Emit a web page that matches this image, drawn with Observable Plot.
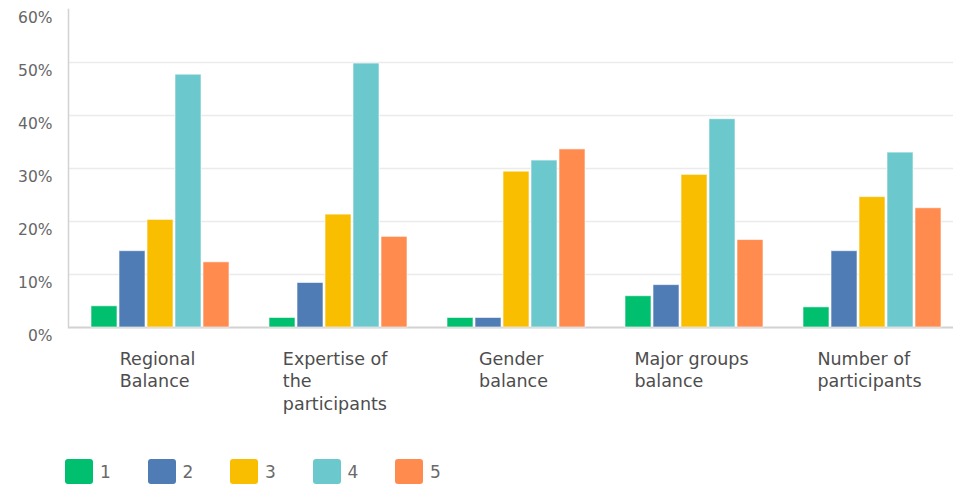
<!DOCTYPE html>
<html>
<head>
<meta charset="utf-8">
<script src="https://cdn.jsdelivr.net/npm/d3@7"></script>
<script src="https://cdn.jsdelivr.net/npm/@observablehq/plot@0.6"></script>
<style>
  html, body { margin: 0; padding: 0; background: #fff; overflow: hidden; }
  #chart svg { overflow: hidden; display: block; }
  #legend { padding: 39px 0 0 65px; }
  #legend div[class$="-swatches"], #legend div[class*="-swatches "] { margin: 0 !important; min-height: 0 !important; font-family: "DejaVu Sans", sans-serif !important; font-size: 17px !important; color: #6a6a6a !important; }
  #legend span[class$="-swatch"] { width: 82.5px; margin: 0 !important; display: inline-flex; align-items: center; }
  #legend span[class$="-swatch"] > svg { margin-right: 7px !important; }
  #legend span[class$="-swatch"] rect { rx: 3px; ry: 3px; }
</style>
</head>
<body>
<div id="chart"></div>
<div id="legend"></div>
<script>
const categories = ["Regional Balance", "Expertise of the participants", "Gender balance", "Major groups balance", "Number of participants"];
const categoryLabels = ["Regional\nBalance", "Expertise of\nthe\nparticipants", "Gender\nbalance", "Major groups\nbalance", "Number of\nparticipants"];
const ratings = ["1", "2", "3", "4", "5"];
const ratingColors = ["#00BF6F", "#507CB6", "#F9BE00", "#6BC8CD", "#FF8B4F"];
// percent values per rating, one entry per category
const rating1 = [4.0, 1.8, 1.8, 5.9, 3.8];
const rating2 = [14.4, 8.4, 1.8, 8.0, 14.4];
const rating3 = [20.3, 21.3, 29.4, 28.8, 24.6];
const rating4 = [47.7, 49.8, 31.5, 39.3, 33.0];
const rating5 = [12.3, 17.1, 33.6, 16.5, 22.5];
const yTicks = [0, 10, 20, 30, 40, 50, 60];
const gridTicks = [10, 20, 30, 40, 50];

const series = [rating1, rating2, rating3, rating4, rating5];
const data = [];
categories.forEach((c, ci) => {
  ratings.forEach((r, ri) => {
    data.push({category: c, rating: r, value: series[ri][ci]});
  });
});

const chart = Plot.plot({
  width: 953,
  height: 420,
  marginTop: 9,
  marginBottom: 93,
  marginLeft: 67,
  marginRight: -5,
  style: {fontFamily: "DejaVu Sans, sans-serif", background: "white", overflow: "hidden"},
  fx: {domain: categories, padding: 0, label: null, axis: null},
  x: {domain: ratings, paddingInner: 0.06, paddingOuter: 0.634, align: 0.585, axis: null},
  y: {domain: [0, 60], axis: null, label: null},
  color: {domain: ratings, range: ratingColors},
  marks: [
    Plot.gridY(gridTicks, {stroke: "#ebebeb", strokeOpacity: 1, strokeWidth: 1.5}),
    Plot.ruleY([0], {stroke: "#d2d2d2", strokeWidth: 2}),
    Plot.frame({anchor: "left", facetAnchor: "left", stroke: "#d2d2d2", strokeWidth: 1.5}),
    Plot.axisY(yTicks, {tickSize: 0, tickPadding: 16, tickFormat: d => d + "%", dy: 9, fontSize: 15.5, fill: "#666", letterSpacing: 2, label: null}),
    Plot.axisFx({anchor: "bottom", tickSize: 0, tickPadding: 21, tickFormat: d => categoryLabels[categories.indexOf(d)], lineHeight: 1.3, fontSize: 17.5, fill: "#4d4d4d", letterSpacing: 0.6, lineAnchor: "top", label: null}),
    Plot.barY(data, {fx: "category", x: "rating", y: "value", fill: "rating", stroke: "white", strokeOpacity: 0.6, strokeWidth: 1})
  ]
});
document.getElementById("chart").appendChild(chart);

// left-align lines inside each centred label block
d3.select(chart).selectAll('g[aria-label="fx-axis tick label"] text').each(function () {
  const w = this.getBBox().width;
  d3.select(this).attr("text-anchor", "start");
  d3.select(this).selectAll("tspan").attr("x", -w / 2);
  if (d3.select(this).selectAll("tspan").empty()) d3.select(this).attr("x", -w / 2);
});

const legend = Plot.legend({
  color: {domain: ratings, range: ratingColors},
  legend: "swatches",
  swatchWidth: 28,
  swatchHeight: 25
});
document.getElementById("legend").appendChild(legend);
</script>
</body>
</html>
